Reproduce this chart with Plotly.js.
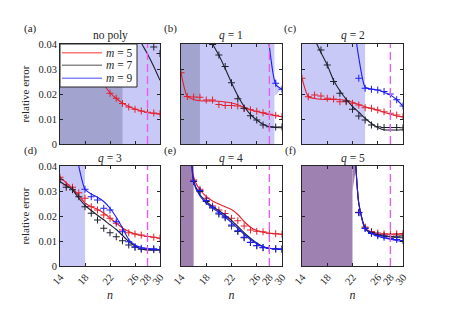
<!DOCTYPE html>
<html><head><meta charset="utf-8">
<script src="https://cdn.plot.ly/plotly-3.0.1.min.js"></script>
<style>html,body{margin:0;padding:0;background:#fff}#chart{width:449px;height:313px}</style>
</head><body><div id="chart"></div>
<script>
// ---------------- DATA ----------------
const nVals = [14,15,16,17,18,19,20,21,22,23,24,25,26,27,28,29,30];
const panelTitles = ['no poly','<i>q</i> = 1','<i>q</i> = 2','<i>q</i> = 3','<i>q</i> = 4','<i>q</i> = 5'];
const panelLabels = ['(a)','(b)','(c)','(d)','(e)','(f)'];
const seriesNames = ['<i>m</i> = 5','<i>m</i> = 7','<i>m</i> = 9'];
const xTickVals = [14,18,22,26,28,30];
const xTickText = ['14','18','22','26','28','30'];
const yTickVals = [0,0.01,0.02,0.03,0.04];
const yTickText = ['0','0.01','0.02','0.03','0.04'];
const refN = 28;
const _ = null;

// (a) no poly
const a_m5_line = [_,_,_,_,0.044,0.035,0.0285,0.024,0.0205,0.0182,0.0164,0.015,0.014,0.0132,0.0126,0.0122,0.0119];
const a_m5_mark = [_,_,_,_,_,_,_,_,0.0203,0.0183,0.0162,0.0148,0.0139,0.0132,0.0127,0.0124,0.0121];
const a_m7_line = [_,_,_,_,_,_,_,_,_,_,_,_,0.046,0.0405,0.036,0.031,0.0255];
const a_m7_mark = [_,_,_,_,_,_,_,_,_,_,_,_,_,_,_,0.0388,0.0362];
const a_m9_line = [_,_,_,_,_,_,_,_,_,_,_,_,_,_,_,_,_];
const a_m9_mark = [_,_,_,_,_,_,_,_,_,_,_,_,_,_,_,_,_];
// (b) q = 1
const b_m5_line = [0.0285,0.019,0.0178,0.0173,0.0172,0.0172,0.0171,0.0168,0.0164,0.0157,0.0147,0.0137,0.013,0.0124,0.0118,0.0113,0.0109];
const b_m5_mark = [0.0285,0.019,0.0188,0.0187,0.0176,0.0176,0.0158,0.0154,0.0154,0.0152,0.0143,0.0137,0.0131,0.0125,0.0119,0.0115,0.011];
const b_m7_line = [_,_,_,_,0.0445,0.04,0.0355,0.0302,0.0245,0.0193,0.015,0.0118,0.0096,0.0079,0.0069,0.0066,0.0065];
const b_m7_mark = [_,_,_,_,_,0.0398,0.0356,0.031,0.0245,0.0181,0.0143,0.0113,0.0096,0.0076,0.0069,0.0068,0.0068];
const b_m9_line = [_,_,_,_,_,_,_,_,_,_,_,_,_,0.07,0.039,0.0238,0.0219];
const b_m9_mark = [_,_,_,_,_,_,_,_,_,_,_,_,_,_,_,0.0243,0.0219];
// (c) q = 2
const c_m5_line = [0.0263,0.0189,0.0182,0.0179,0.0178,0.0178,0.0177,0.0175,0.0167,0.0158,0.0149,0.0142,0.0135,0.0127,0.0119,0.0112,0.0107];
const c_m5_mark = [0.0263,0.0189,0.0196,0.0192,0.0183,0.018,0.0169,0.0169,0.0163,0.0156,0.0145,0.0143,0.0136,0.0129,0.0123,0.0116,0.011];
const c_m7_line = [_,_,0.0418,0.0366,0.0316,0.0255,0.0213,0.0179,0.015,0.0127,0.0103,0.0082,0.0066,0.0057,0.0056,0.0056,0.0057];
const c_m7_mark = [_,_,_,0.0376,0.0316,0.025,0.0203,0.0172,0.0139,0.0112,0.0096,0.0076,0.0069,0.0066,0.0066,0.0066,0.0065];
const c_m9_line = [_,_,_,_,_,_,_,_,0.052,0.0345,0.0227,0.022,0.0216,0.0207,0.0196,0.0177,0.0152];
const c_m9_mark = [_,_,_,_,_,_,_,_,_,0.0263,0.0223,0.0219,0.0216,0.021,0.02,0.0177,0.0152];
// (d) q = 3
const d_m5_line = [0.0355,0.0333,0.0311,0.0282,0.0252,0.0237,0.0227,0.0212,0.0192,0.0172,0.0152,0.0138,0.0128,0.0122,0.0119,0.0115,0.0111];
const d_m5_mark = [0.0355,0.0324,0.0315,0.0293,0.0271,0.0237,0.0224,0.0204,0.0191,0.0171,0.0144,0.0133,0.0128,0.0124,0.0118,0.0115,0.0111];
const d_m7_line = [0.0337,0.0322,0.0305,0.0272,0.0242,0.0222,0.0203,0.0185,0.0165,0.0146,0.0122,0.0098,0.008,0.0068,0.0063,0.0063,0.0064];
const d_m7_mark = [0.0345,0.0315,0.0305,0.0277,0.0237,0.0211,0.0184,0.0151,0.0133,0.0117,0.0101,0.0084,0.0075,0.0067,0.0066,0.0065,0.0065];
const d_m9_line = [_,_,0.055,0.04,0.0307,0.0288,0.0275,0.0258,0.0231,0.0195,0.0152,0.0106,0.0084,0.0074,0.007,0.0067,0.0065];
const d_m9_mark = [_,_,_,_,0.0307,0.0277,0.0264,0.0231,0.0224,0.0177,0.0137,0.0097,0.0077,0.0071,0.0069,0.0069,0.0066];
// (e) q = 4
const e_m5_line = [_,0.09,0.0355,0.0305,0.0278,0.026,0.0248,0.0237,0.0226,0.0206,0.0178,0.0155,0.0142,0.0135,0.0131,0.0129,0.0127];
const e_m5_mark = [_,_,0.0344,0.0307,0.0271,0.024,0.0224,0.021,0.0191,0.0181,0.016,0.0144,0.0139,0.0137,0.0131,0.0129,0.0127];
const e_m7_line = [_,0.09,0.034,0.0285,0.0258,0.0238,0.0222,0.0203,0.0182,0.0158,0.0133,0.0111,0.0092,0.0078,0.0071,0.0068,0.0067];
const e_m7_mark = [_,_,0.0338,0.0298,0.0258,0.0232,0.0208,0.0193,0.016,0.0138,0.0113,0.0094,0.0081,0.0073,0.007,0.0068,0.0067];
const e_m9_line = [_,0.09,0.0335,0.028,0.0252,0.0232,0.0214,0.0195,0.0174,0.015,0.0127,0.0106,0.0089,0.0077,0.0071,0.0068,0.0067];
const e_m9_mark = [_,_,0.034,0.0302,0.0262,0.0235,0.0212,0.0197,0.0164,0.0141,0.0115,0.0095,0.0082,0.0074,0.007,0.0069,0.0068];
// (f) q = 5
const f_m5_line = [_,_,_,_,_,_,_,_,0.065,0.025,0.0152,0.0136,0.0129,0.0126,0.0125,0.0125,0.0125];
const f_m5_mark = [_,_,_,_,_,_,_,_,_,0.0215,0.0156,0.0138,0.0132,0.0129,0.0128,0.0129,0.013];
const f_m7_line = [_,_,_,_,_,_,_,_,0.065,0.025,0.015,0.0133,0.0124,0.0119,0.0116,0.0114,0.0113];
const f_m7_mark = [_,_,_,_,_,_,_,_,_,0.0214,0.0152,0.0134,0.0125,0.0121,0.0118,0.0119,0.012];
const f_m9_line = [_,_,_,_,_,_,_,_,0.065,0.025,0.0148,0.013,0.0119,0.0112,0.0107,0.0102,0.0097];
const f_m9_mark = [_,_,_,_,_,_,_,_,_,0.0213,0.015,0.013,0.0121,0.0115,0.011,0.0106,0.0102];

// shaded bands: n where each band ends (bands start at n = 14)
const lightBandEnd  = [30, 28.8, 24, 18, _, _];
const darkBandEnd   = [24, 17, _, _, _, _];
const purpleBandEnd = [_, _, _, _, 16, 22];
const bBlobN = [28.8, 29.8, 28.8];
const bBlobErr = [0.0268, 0.0218, 0.019];
const fEdgeN = [22, 22.6, 22];
const fEdgeErr = [0.04, 0.04, 0.03];

// ---------------- STYLE / LAYOUT ----------------
const W = 449, H = 313;
const colX = [[60,160],[181,282],[302,403]];
const rowY = [[44,144],[166,266]];
const lineColors = ['#e3202e','#1f1f2e','#1c1cf5'];
const legendColors = ['#ff7474','#8a8a8a','#8484ff'];
const lightC = '#c9c9f8', darkC = '#a3a3cf', purpleC = '#9f81b1';
const FONT = '"Liberation Serif", "Times New Roman", serif';
const INK = '#262626';

const lines = [
  [a_m5_line,a_m7_line,a_m9_line],[b_m5_line,b_m7_line,b_m9_line],[c_m5_line,c_m7_line,c_m9_line],
  [d_m5_line,d_m7_line,d_m9_line],[e_m5_line,e_m7_line,e_m9_line],[f_m5_line,f_m7_line,f_m9_line]];
const marks = [
  [a_m5_mark,a_m7_mark,a_m9_mark],[b_m5_mark,b_m7_mark,b_m9_mark],[c_m5_mark,c_m7_mark,c_m9_mark],
  [d_m5_mark,d_m7_mark,d_m9_mark],[e_m5_mark,e_m7_mark,e_m9_mark],[f_m5_mark,f_m7_mark,f_m9_mark]];

const traces = [];
const layout = {
  width: W, height: H, margin: {l:0,r:0,t:0,b:0},
  paper_bgcolor: '#fff', plot_bgcolor: '#fff',
  font: {family: FONT, color: INK, size: 11},
  showlegend: false,
  annotations: [], shapes: []
};

function band(ax, ay, x0, x1, color) {
  traces.push({x:[x0,x1,x1,x0], y:[0,0,0.04,0.04], xaxis:ax, yaxis:ay, mode:'lines', fill:'toself',
    fillcolor:color, line:{width:0, color:color}, hoverinfo:'skip', showlegend:false});
}

for (let p = 0; p < 6; p++) {
  const r = Math.floor(p/3), c = p%3;
  const sfx = p === 0 ? '' : String(p+1);
  const ax = 'x'+sfx, ay = 'y'+sfx;
  if (lightBandEnd[p] !== null) band(ax, ay, 14, lightBandEnd[p], lightC);
  if (p === 1) traces.push({x:bBlobN, y:bBlobErr, xaxis:ax, yaxis:ay, mode:'lines', fill:'toself',
      fillcolor:lightC, line:{width:0,color:lightC}, hoverinfo:'skip', showlegend:false});
  if (darkBandEnd[p] !== null) band(ax, ay, 14, darkBandEnd[p], darkC);
  if (purpleBandEnd[p] !== null) band(ax, ay, 14, purpleBandEnd[p], purpleC);
  if (p === 5) traces.push({x:fEdgeN, y:fEdgeErr, xaxis:ax, yaxis:ay, mode:'lines', fill:'toself',
      fillcolor:purpleC, line:{width:0,color:purpleC}, hoverinfo:'skip', showlegend:false});
  for (let s = 0; s < 3; s++) {
    traces.push({x:nVals, y:lines[p][s], xaxis:ax, yaxis:ay, mode:'lines', connectgaps:false, name:seriesNames[s],
      line:{color:lineColors[s], width:1.1, shape:'spline', smoothing:0.6}, showlegend:false, hoverinfo:'skip'});
    traces.push({x:nVals, y:marks[p][s], xaxis:ax, yaxis:ay, mode:'markers', name:seriesNames[s],
      marker:{symbol:'cross-thin', size:5, line:{width:1, color:lineColors[s]}, color:lineColors[s]},
      showlegend:false, hoverinfo:'skip'});
  }
  const xd = [colX[c][0]/W, colX[c][1]/W];
  const yd = [1-rowY[r][1]/H, 1-rowY[r][0]/H];
  const common = {showline:true, linecolor:INK, linewidth:1, mirror:'ticks', ticks:'inside', ticklen:3,
    tickcolor:INK, tickwidth:1, showgrid:false, zeroline:false, fixedrange:true,
    tickfont:{family:FONT, size:10.5, color:INK}};
  layout['xaxis'+sfx] = Object.assign({}, common, {domain:xd, anchor:ay, range:[14,30],
    tickmode:'array', tickvals:xTickVals, ticktext:xTickText, showticklabels: r===1, tickangle:-50,
    title: r===1 ? {text:'<i>n</i>', font:{family:FONT,size:12,color:INK}, standoff:4} : undefined});
  layout['yaxis'+sfx] = Object.assign({}, common, {domain:yd, anchor:ax, range:[0,0.04],
    tickmode:'array', tickvals:yTickVals, ticktext:yTickText, showticklabels: c===0,
    title: c===0 ? {text:'relative error', font:{family:FONT,size:11,color:INK}, standoff:6} : undefined});
  layout.shapes.push({type:'line', xref:ax, yref:ay+' domain', x0:refN, x1:refN, y0:0, y1:1,
    line:{color:'#e55ef2', width:1.4, dash:'8px,4px'}});
  layout.annotations.push({text:panelTitles[p], xref:'paper', yref:'paper',
    x:(xd[0]+xd[1])/2, y:1-(rowY[r][0]-8)/H, xanchor:'center', yanchor:'middle', showarrow:false,
    font:{family:FONT, size:11.5, color:INK}});
  layout.annotations.push({text:panelLabels[p], xref:'paper', yref:'paper',
    x:[31,170,290][c]/W, y:1-(rowY[r][0]-16)/H, xanchor:'center', yanchor:'middle', showarrow:false,
    font:{family:FONT, size:11, color:INK}});
}

// legend box (drawn inside panel (a), as in the original figure)
const legBox = {x0:60, x1:137, y0:44, y1:87};
const legRows = [52.7, 65.3, 78.3];
layout.shapes.push({type:'rect', xref:'paper', yref:'paper', x0:legBox.x0/W, x1:legBox.x1/W,
  y0:1-legBox.y1/H, y1:1-legBox.y0/H, fillcolor:'#fff', line:{color:INK, width:1}, layer:'above'});
for (let s = 0; s < 3; s++) {
  layout.shapes.push({type:'line', xref:'paper', yref:'paper', x0:62/W, x1:102/W,
    y0:1-legRows[s]/H, y1:1-legRows[s]/H, line:{color:legendColors[s], width:1.5}, layer:'above'});
  layout.annotations.push({text:seriesNames[s], xref:'paper', yref:'paper', x:104/W, y:1-legRows[s]/H,
    xanchor:'left', yanchor:'middle', showarrow:false, font:{family:FONT, size:11.5, color:INK}});
}

Plotly.newPlot('chart', traces, layout, {staticPlot:true, displayModeBar:false});
</script></body></html>
